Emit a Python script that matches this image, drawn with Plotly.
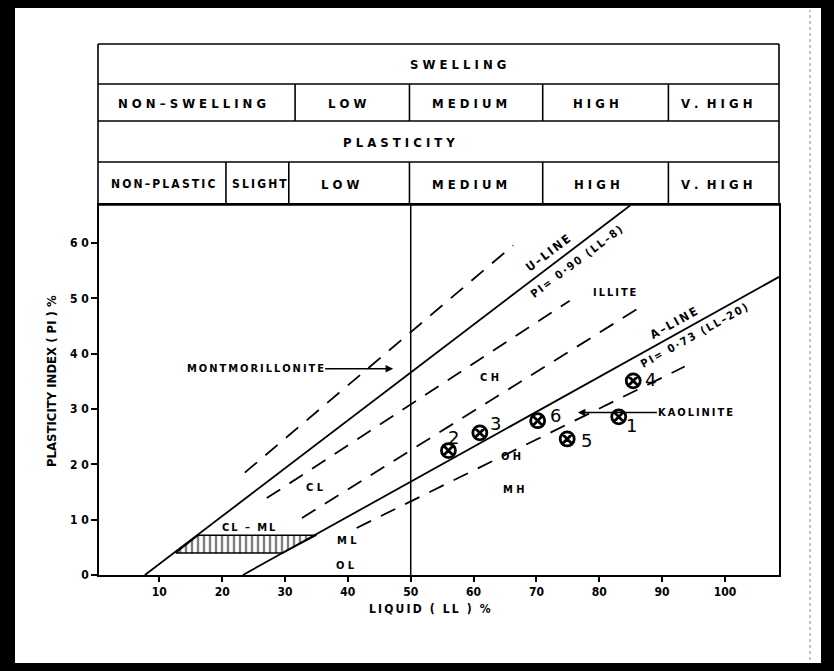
import plotly.graph_objects as go

# ---------------- data ----------------
u_line_ll = [7.7, 84.9]
u_line_pi = [0.0, 66.8]
a_line_ll = [23.3, 108.6]
a_line_pi = [0.0, 53.9]
dash_lines = {
    "above_u": ([23.6, 66.3], [18.5, 59.6]),
    "below_u": ([27.1, 75.3], [13.9, 49.6]),
    "above_a": ([32.7, 86.2], [10.3, 48.2]),
    "below_a": ([41.4, 93.6], [8.5, 37.7]),
}
ll50_ll = [50, 50]
ll50_pi = [0, 66.9]
hatch_ll = [12.6, 16.2, 35.0, 29.6, 12.6]
hatch_pi = [4.0, 7.2, 7.2, 4.0, 4.0]

sample_ll = [83.1, 56.0, 61.0, 85.4, 74.9, 70.2]
sample_pi = [28.6, 22.5, 25.7, 35.1, 24.6, 27.9]
sample_lab = ["1", "2", "3", "4", "5", "6"]

zone_lab = ["CH", "CL", "CL – ML", "ML", "OL", "OH", "MH", "ILLITE"]
zone_ll = [62.6, 34.8, 24.3, 39.9, 39.7, 66.0, 66.4, 82.5]
zone_pi = [35.8, 15.9, 8.5, 6.3, 1.8, 21.5, 15.5, 51.0]

x_ticks = [10, 20, 30, 40, 50, 60, 70, 80, 90, 100]
y_ticks = [0, 10, 20, 30, 40, 50, 60]

swell_cells = ["NON-SWELLING", "LOW", "MEDIUM", "HIGH", "V. HIGH"]
swell_bounds = [31.6, 49.8, 71.0, 91.0]
plast_cells = ["NON-PLASTIC", "SLIGHT", "LOW", "MEDIUM", "HIGH", "V. HIGH"]
plast_bounds = [20.6, 30.6, 49.8, 71.0, 91.0]

# ---------------- layout geometry ----------------
W, H = 834, 671
ML, MR, MT, MB = 99, 55, 44, 96
XR = [0.4, 108.6]
YR = [0, 66.9]
PW = W - ML - MR
PH = H - MT - MB
ydom_top = (575 - 205) / PH


def px_x(px):
    return (px - ML) / PW


def px_y(py):
    return (H - MB - py) / PH


def ll_paper(v):
    return (v - XR[0]) / (XR[1] - XR[0])


FONT = "DejaVu Sans Condensed, DejaVu Sans, sans-serif"
THIN = "\u2009"


def spaced(s):
    return " ".join(list(s)).replace(".  ", ". ").replace("-", "–")


def thin(s):
    return THIN.join(list(s.replace("-", "–")))


def zone_text(t):
    if len(t) <= 2:
        return spaced(t)
    return thin(t)


fig = go.Figure()

fig.add_trace(go.Scatter(x=ll50_ll, y=ll50_pi, mode="lines",
                         line=dict(color="black", width=1.5), hoverinfo="skip"))
fig.add_trace(go.Scatter(x=hatch_ll, y=hatch_pi, mode="lines", fill="toself",
                         fillcolor="white",
                         fillpattern=dict(shape="|", size=6, solidity=0.4,
                                          fgcolor="black", bgcolor="white"),
                         line=dict(color="black", width=1.5), hoverinfo="skip"))
fig.add_trace(go.Scatter(x=u_line_ll, y=u_line_pi, mode="lines",
                         line=dict(color="black", width=1.8), hoverinfo="skip"))
fig.add_trace(go.Scatter(x=a_line_ll, y=a_line_pi, mode="lines",
                         line=dict(color="black", width=1.8), hoverinfo="skip"))
for name, (xs, ys) in dash_lines.items():
    fig.add_trace(go.Scatter(x=xs, y=ys, mode="lines", name=name,
                             line=dict(color="black", width=1.8, dash="16px,11px"),
                             hoverinfo="skip"))
fig.add_trace(go.Scatter(x=sample_ll, y=sample_pi, mode="markers",
                         marker=dict(symbol="circle-x-open", size=14, color="black",
                                     line=dict(width=2.8, color="black")),
                         hoverinfo="skip"))

ann = []
shifts = {"1": (13, -9), "2": (5, 13), "3": (16, 9), "4": (17, 1), "5": (19, -2), "6": (18, 5)}
for x, y, t in zip(sample_ll, sample_pi, sample_lab):
    dx, dy = shifts[t]
    ann.append(dict(x=x, y=y, text=t, showarrow=False, xshift=dx, yshift=dy,
                    xanchor="center", yanchor="middle",
                    font=dict(family="DejaVu Sans, sans-serif", size=18, color="black")))
for x, y, t in zip(zone_ll, zone_pi, zone_lab):
    ann.append(dict(x=x, y=y, text="<b>" + zone_text(t) + "</b>",
                    showarrow=False, xanchor="center", yanchor="middle",
                    font=dict(family=FONT, size=11, color="black")))

for (x, y, t, ang, fs) in [(71.9, 58.2, "U-LINE", -37, 12), (76.5, 56.6, "PI= 0·90 (LL-8)", -37, 11),
                           (91.9, 45.5, "A-LINE", -29, 12), (95.2, 43.3, "PI= 0·73 (LL-20)", -29, 11)]:
    ann.append(dict(x=x, y=y, text="<b>" + thin(t) + "</b>", textangle=ang, showarrow=False,
                    xanchor="center", yanchor="middle",
                    font=dict(family=FONT, size=fs, color="black")))

ann.append(dict(x=47.2, y=37.3, ax=-138, ay=0, axref="pixel", ayref="pixel",
                text="<b>" + thin("MONTMORILLONITE") + "</b>", showarrow=True, arrowhead=2,
                arrowsize=1, arrowwidth=1.5, arrowcolor="black",
                font=dict(family=FONT, size=11, color="black")))
ann.append(dict(x=76.6, y=29.4, ax=118, ay=0, axref="pixel", ayref="pixel",
                text="<b>" + thin("KAOLINITE") + "</b>", showarrow=True, arrowhead=2,
                arrowsize=1, arrowwidth=1.5, arrowcolor="black",
                font=dict(family=FONT, size=11, color="black")))

ann.append(dict(xref="paper", yref="paper", x=px_x(430), y=px_y(609),
                xanchor="center", yanchor="middle",
                text="<b>" + thin("LIQUID ( LL ) %") + "</b>", showarrow=False,
                font=dict(family=FONT, size=12, color="black")))
ann.append(dict(xref="paper", yref="paper", x=px_x(51), y=px_y(381),
                xanchor="center", yanchor="middle",
                text="<b>PLASTICITY INDEX ( PI ) %</b>", textangle=-90, showarrow=False,
                font=dict(family=FONT, size=13, color="black")))

# ---------------- frame and header table ----------------
shapes = []
shapes.append(dict(type="rect", xref="paper", yref="paper", layer="below",
                   x0=px_x(15), x1=px_x(821), y0=px_y(663), y1=px_y(8),
                   fillcolor="white", line=dict(width=0)))
shapes.append(dict(type="line", xref="paper", yref="paper",
                   x0=px_x(810), x1=px_x(810), y0=px_y(660), y1=px_y(10),
                   line=dict(color="#888", width=1, dash="dot")))
tl, tr = px_x(98), px_x(779)
row_y = [44, 84, 121, 162, 205]
for ry in row_y:
    shapes.append(dict(type="line", xref="paper", yref="paper", x0=tl, x1=tr,
                       y0=px_y(ry), y1=px_y(ry), line=dict(color="black", width=1.6)))
for xx in (tl, tr):
    shapes.append(dict(type="line", xref="paper", yref="paper", x0=xx, x1=xx,
                       y0=px_y(44), y1=px_y(205), line=dict(color="black", width=1.6)))
for b in swell_bounds:
    shapes.append(dict(type="line", xref="paper", yref="paper", x0=ll_paper(b), x1=ll_paper(b),
                       y0=px_y(121), y1=px_y(84), line=dict(color="black", width=1.6)))
for b in plast_bounds:
    shapes.append(dict(type="line", xref="paper", yref="paper", x0=ll_paper(b), x1=ll_paper(b),
                       y0=px_y(205), y1=px_y(162), line=dict(color="black", width=1.6)))

tfont = dict(family=FONT, size=13, color="black")
ann.append(dict(xref="paper", yref="paper", x=px_x(458), y=px_y(65),
                xanchor="center", yanchor="middle",
                text="<b>" + spaced("SWELLING") + "</b>", showarrow=False, font=tfont))
ann.append(dict(xref="paper", yref="paper", x=px_x(399), y=px_y(142),
                xanchor="center", yanchor="middle",
                text="<b>" + spaced("PLASTICITY") + "</b>", showarrow=False, font=tfont))
swell_px = [192, 347, 470, 596, 716]
for t, p in zip(swell_cells, swell_px):
    ann.append(dict(xref="paper", yref="paper", x=px_x(p), y=px_y(103),
                    xanchor="center", yanchor="middle",
                    text="<b>" + spaced(t) + "</b>", showarrow=False, font=tfont))
plast_px = [163, 259, 340, 470, 597, 716]
for t, p in zip(plast_cells, plast_px):
    if t in ("NON-PLASTIC", "SLIGHT"):
        txt, f = thin(t), dict(family=FONT, size=12, color="black")
    else:
        txt, f = spaced(t), tfont
    ann.append(dict(xref="paper", yref="paper", x=px_x(p), y=px_y(184),
                    xanchor="center", yanchor="middle",
                    text="<b>" + txt + "</b>", showarrow=False, font=f))

fig.update_layout(
    width=W, height=H,
    margin=dict(l=ML, r=MR, t=MT, b=MB),
    paper_bgcolor="black", plot_bgcolor="white",
    showlegend=False,
    shapes=shapes, annotations=ann,
    xaxis=dict(range=XR, showgrid=False, zeroline=False, showline=True, mirror=True,
               linecolor="black", linewidth=1.6, ticks="outside", ticklen=5, tickwidth=1.5,
               tickcolor="black", tickvals=x_ticks,
               ticktext=["<b>%d</b>" % v for v in x_ticks],
               tickfont=dict(family=FONT, size=12, color="black")),
    yaxis=dict(range=YR, domain=[0, ydom_top], showgrid=False, zeroline=False,
               showline=True, mirror=True,
               linecolor="black", linewidth=1.6, ticks="outside", ticklen=6, tickwidth=1.5,
               tickcolor="black", tickvals=y_ticks,
               ticktext=["<b>%s</b>" % " ".join(str(v)) for v in y_ticks],
               tickfont=dict(family=FONT, size=12, color="black")),
)

fig.write_html("out.html", config={"displayModeBar": False},
               post_script="document.body.style.margin='0px';document.body.style.overflow='hidden';")
